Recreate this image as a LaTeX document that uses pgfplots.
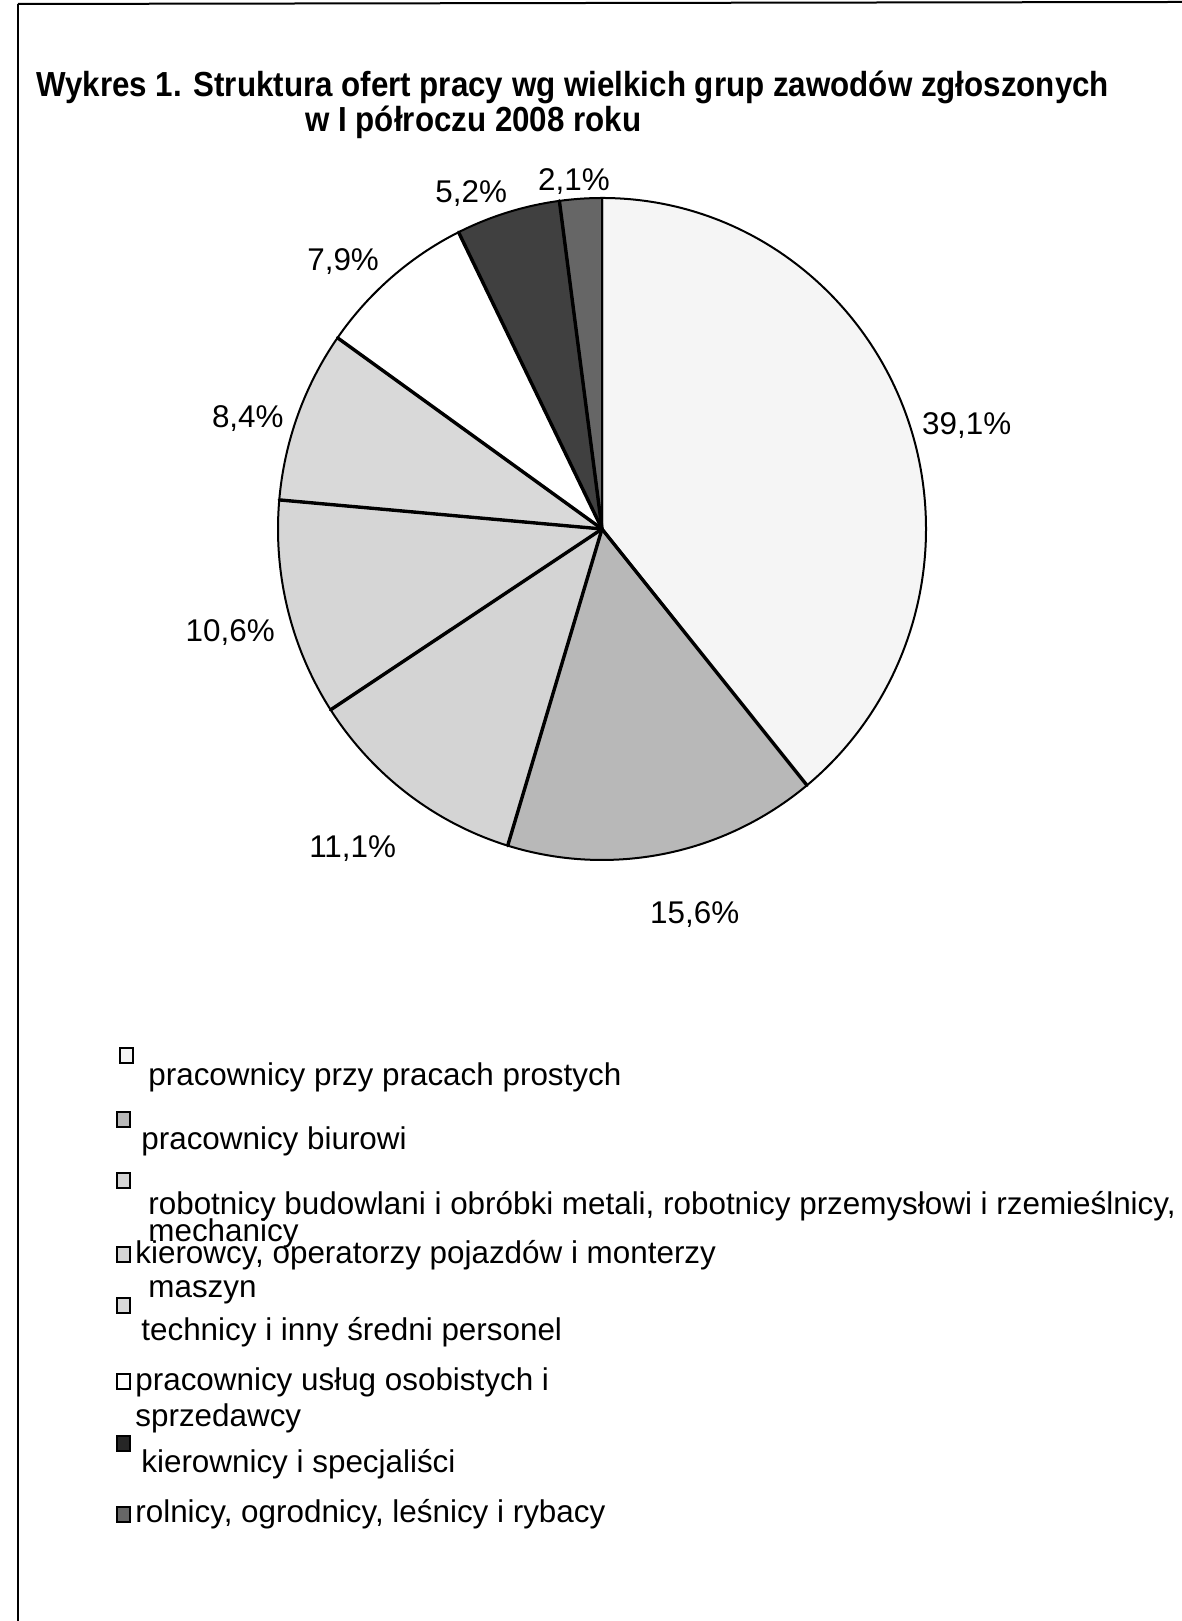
\documentclass[border=0pt]{standalone}
\usepackage{pgfplots}
\pgfplotsset{compat=1.18}
\usepackage{pgfplotstable}
\usepackage{fontspec}
\setmainfont{Liberation Sans}
\newfontfamily\titlefont[FakeStretch=0.9]{Liberation Sans}

\definecolor{c1}{gray}{0.96}
\definecolor{c2}{gray}{0.72}
\definecolor{c3}{gray}{0.83}
\definecolor{c4}{gray}{0.84}
\definecolor{c5}{gray}{0.85}
\definecolor{c6}{gray}{1.00}
\definecolor{c7}{gray}{0.25}
\definecolor{c8}{gray}{0.40}

% udzial [%], kolor, polozenie etykiety (kat, odleglosc od srodka w px)
\pgfplotstableread{
val  col lab  labang labdist
39.1 c1  39,1 15.8   379
15.6 c2  15,6 -76.5  397
11.1 c3  11,1 -128.0 405
10.6 c4  10,6 -164.4 386
8.4  c5  8,4  162.7  371
7.9  c6  7,9  134.1  372
5.2  c7  5,2  111.3  360
2.1  c8  2,1  94.6   349
}\pietable

\newcommand\txt{\fontsize{15.7pt}{18pt}\selectfont}

\begin{document}
\begin{tikzpicture}
\begin{axis}[
    at={(0,0)}, anchor=south west,
    x=0.5pt, y=0.5pt,
    xmin=0, xmax=1182, ymin=0, ymax=1621,
    hide axis, clip=false,
]
% srodek i promienie kola (px)
\def\cx{602}\def\cy{1092}\def\rx{324}\def\ry{331}
\def\acc{90}
\pgfplotsforeachungrouped \i in {0,...,7}{%
  \pgfplotstablegetelem{\i}{val}\of\pietable \let\sliceval\pgfplotsretval
  \pgfplotstablegetelem{\i}{col}\of\pietable \let\slicecol\pgfplotsretval
  \pgfplotstablegetelem{\i}{lab}\of\pietable \let\slicelab\pgfplotsretval
  \pgfplotstablegetelem{\i}{labang}\of\pietable \let\la\pgfplotsretval
  \pgfplotstablegetelem{\i}{labdist}\of\pietable \let\ld\pgfplotsretval
  \pgfmathsetmacro\aend{\acc-3.6*\sliceval}
  \pgfmathsetmacro\sx{\cx+\rx*cos(\acc)}
  \pgfmathsetmacro\sy{\cy+\ry*sin(\acc)}
  \pgfmathsetmacro\lx{\cx+\ld*cos(\la)}
  \pgfmathsetmacro\ly{\cy+\ld*sin(\la)}
  \edef\temp{%
    \noexpand\filldraw[fill=\slicecol, draw=black, line width=1pt, line join=round]
      (axis cs:\cx,\cy) -- (axis cs:\sx,\sy)
      arc[start angle=\acc, end angle=\aend, x radius=162pt, y radius=165.5pt] -- cycle;
    \noexpand\node[font=\noexpand\txt, inner sep=0pt] at (axis cs:\lx,\ly) {\slicelab\noexpand\%};
  }%
  \temp
  \let\acc\aend
}
% grubsze promienie miedzy wycinkami (bez pionowego na gorze)
\def\acc{90}
\pgfplotsforeachungrouped \i in {0,...,6}{%
  \pgfplotstablegetelem{\i}{val}\of\pietable \let\sliceval\pgfplotsretval
  \pgfmathsetmacro\acc{\acc-3.6*\sliceval}
  \pgfmathsetmacro\sx{\cx+\rx*cos(\acc)}
  \pgfmathsetmacro\sy{\cy+\ry*sin(\acc)}
  \edef\temp{\noexpand\draw[line width=1.7pt, line cap=round] (axis cs:\cx,\cy) -- (axis cs:\sx,\sy);}%
  \temp
}

% tytul
\node[anchor=base west, inner sep=0pt, font=\titlefont\bfseries\fontsize{17.4pt}{20pt}\selectfont]
  at (axis cs:36,1524) {Wykres 1. Struktura ofert pracy wg wielkich grup zawodów zgłoszonych};
\node[anchor=base west, inner sep=0pt, font=\titlefont\bfseries\fontsize{17.4pt}{20pt}\selectfont]
  at (axis cs:305,1489) {w I półroczu 2008 roku};

% legenda
\filldraw[fill=c1, line width=0.8pt] (axis cs:120,558) rectangle (axis cs:133,573);
\filldraw[fill=c2, line width=0.8pt] (axis cs:117,494) rectangle (axis cs:130,509);
\filldraw[fill=c3, line width=0.8pt] (axis cs:117,433) rectangle (axis cs:130,448);
\filldraw[fill=c4, line width=0.8pt] (axis cs:117,359) rectangle (axis cs:130,374);
\filldraw[fill=c5, line width=0.8pt] (axis cs:117,308) rectangle (axis cs:130,323);
\filldraw[fill=c6, line width=0.8pt] (axis cs:117,232) rectangle (axis cs:130,247);
\filldraw[fill=c7!60!black, line width=0.8pt] (axis cs:117,170) rectangle (axis cs:130,185);
\filldraw[fill=c8, line width=0.8pt] (axis cs:117,99) rectangle (axis cs:130,114);

\begin{scope}[every node/.style={anchor=base west, inner sep=0pt, font=\txt}]
\node at (axis cs:148,535) {pracownicy przy pracach prostych};
\node at (axis cs:141,471) {pracownicy biurowi};
\node at (axis cs:148,406) {robotnicy budowlani i obróbki metali, robotnicy przemysłowi i rzemieślnicy,};
\node at (axis cs:148,379) {mechanicy};
\node at (axis cs:135,357) {kierowcy, operatorzy pojazdów i monterzy};
\node at (axis cs:148,323) {maszyn};
\node at (axis cs:141,280) {technicy i inny średni personel};
\node at (axis cs:135,230) {pracownicy usług osobistych i};
\node at (axis cs:135,194) {sprzedawcy};
\node at (axis cs:141,148) {kierownicy i specjaliści};
\node at (axis cs:135,98) {rolnicy, ogrodnicy, leśnicy i rybacy};
\end{scope}

% ramka
\draw[line width=1pt] (axis cs:18,1617) -- (axis cs:1182,1619);
\draw[line width=1pt] (axis cs:18,1617) -- (axis cs:18,0);
\end{axis}
\pgfresetboundingbox
\useasboundingbox (0,0) rectangle (591pt,810.5pt);
\end{tikzpicture}
\end{document}
